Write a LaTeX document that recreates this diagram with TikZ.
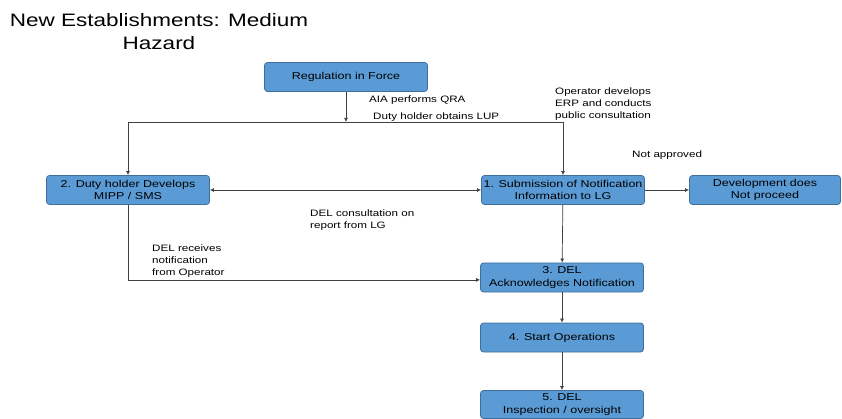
\documentclass[tikz,border=0pt]{standalone}
\usepackage{fontspec}
\setmainfont{Liberation Sans}[FakeStretch=1.25]
\usepackage{tikz}
\usetikzlibrary{arrows.meta,positioning,calc}
\definecolor{flowfill}{HTML}{5B9BD5}
\definecolor{flowln}{HTML}{3E6E9C}
\definecolor{flowline}{HTML}{404040}
\tikzset{
  stage/.style  = {rounded corners=3pt, draw=flowln, fill=flowfill, line width=0.8pt,
                   align=center, minimum width=163pt, minimum height=29pt,
                   inner sep=1pt, font=\fontsize{10}{12.5}\selectfont},
  note/.style   = {align=left, inner sep=0pt, font=\fontsize{9.3}{12}\selectfont},
  ar/.style     = {-{Latex[length=4pt,width=4pt]}, line width=0.7pt, draw=flowline},
  arb/.style    = {{Latex[length=4pt,width=4pt]}-{Latex[length=4pt,width=4pt]},
                   line width=0.7pt, draw=flowline},
  ln/.style     = {line width=0.7pt, draw=flowline},
}
\begin{document}
\begin{tikzpicture}[x=1pt,y=1pt]
\useasboundingbox (0,0) rectangle (842,-419);

% -- title -------------------------------------------------------------------
\node[align=center, font=\fontsize{18}{23}\selectfont] (title) at (159,-32)
  {New Establishments: Medium\\Hazard};

% -- stages ------------------------------------------------------------------
\node[stage] (reg)       at (346,-77)    {Regulation in Force};
\node[stage] (duty)      at (128,-190)   {2. Duty holder Develops\\MIPP / SMS};
\node[stage] (submit)    at (563,-190)   {1. Submission of Notification\\Information to LG};
\node[stage, minimum width=151pt] (noproceed) at (765,-190)
  {Development does\\Not proceed};
\node[stage] (ack)       at (562,-277.5) {3. DEL\\Acknowledges Notification};
\node[stage] (startop)   at (562,-337.5) {4. Start Operations};
\node[stage, minimum height=28pt] (inspect) at (562,-404.5)
  {5. DEL\\Inspection / oversight};

% -- junction under the regulation box ---------------------------------------
\coordinate (jn) at (346,-122);
\coordinate (jl) at (duty.north |- jn);
\coordinate (jr) at (submit.north |- jn);
\coordinate (bend) at ($(duty.south)+(0,-75)$);

% -- connectors --------------------------------------------------------------
\draw[ar] (reg) -- (jn);
\draw[ln] (jl) -- (jr);
\draw[ar] (jl) -- (duty);
\draw[ar] (jr) -- (submit);
\draw[arb] (duty) -- (submit);
\draw[ar] (submit) -- (noproceed);
\draw[ar] (submit) -- (ack);
\draw[ar] (duty.south) -- (bend) -- (bend -| ack.west);
\draw[ar] (ack) -- (startop);
\draw[ar] (startop) -- (inspect);

% -- labels ------------------------------------------------------------------
\node[note, anchor=west] (aia)   at (369,-100) {AIA performs QRA};
\node[note, anchor=west] (lup)   at (373,-117) {Duty holder obtains LUP};
\node[note, anchor=north west] (erp) at (555,-88)
  {Operator develops\\ERP and conducts\\public consultation};
\node[note, anchor=west] (notok) at (632,-155) {Not approved};
\node[note, anchor=north west] (cons) at (310,-210)
  {DEL consultation on\\report from LG};
\node[note, anchor=north west] (recv) at (152,-245)
  {DEL receives\\notification\\from Operator};

\end{tikzpicture}
\end{document}
